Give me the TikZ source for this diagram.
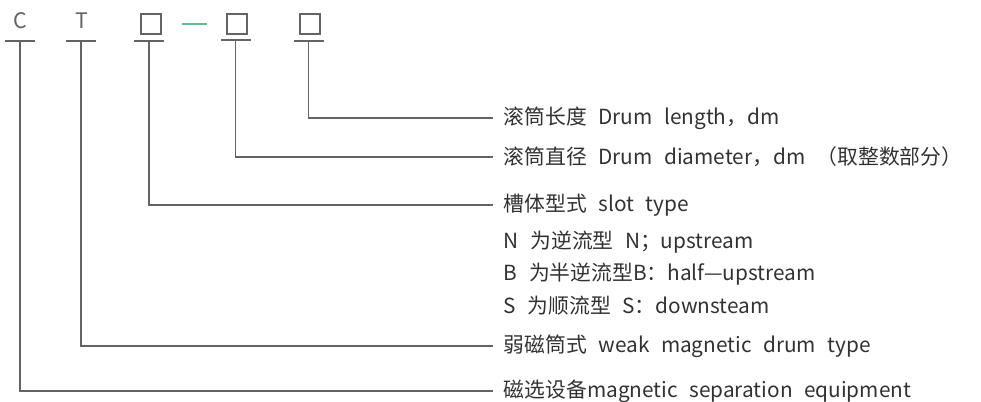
\documentclass[tikz,border=0pt]{standalone}
\usepackage{fontspec}
\setmainfont{Noto Sans CJK SC}
\usetikzlibrary{positioning}
\definecolor{LineGray}{RGB}{100,100,100}
\definecolor{TextGray}{RGB}{50,50,50}
\definecolor{DashGreen}{RGB}{95,190,150}
\newcommand{\widesp}{\spaceskip=0.55em\relax}
\tikzset{
  % model code: letters, blanks and the bars under them
  code/.style={font=\fontsize{16}{16}\selectfont,text=LineGray,inner sep=0},
  blank/.style={draw=LineGray,line width=1.3pt,minimum size=15.5pt,inner sep=0},
  foot/.style={fill=LineGray,minimum width=22.5pt,minimum height=1.5pt,inner sep=0},
  hyph/.style={fill=DashGreen,minimum width=18.5pt,minimum height=1.6pt,inner sep=0},
  % leaders and explanations
  lead/.style={LineGray,line width=1.4pt},
  note/.style={anchor=west,inner xsep=8pt,inner ysep=0pt,text=TextGray,
    font=\fontsize{15.6}{18}\selectfont,execute at begin node=\widesp}
}
\begin{document}
\begin{tikzpicture}[x=0.75pt,y=-0.75pt]
  \useasboundingbox (0,0) rectangle (981,402);
  % code row
  \node[code] (c) at (20,21) {C};
  \node[code] (t) at (82,21) {T};
  \node[blank] (slot) at (151,24) {};
  \node[hyph] (sep) at (194.5,24) {};
  \node[blank] (dia) at (237,24) {};
  \node[blank] (len) at (310,24) {};
  \node[foot] (c-foot) at (20,41) {};
  \node[foot] (t-foot) at (81,41) {};
  \node[foot] (slot-foot) at (149,41) {};
  \node[foot] (dia-foot) at (235.5,40) {};
  \node[foot] (len-foot) at (308.5,41) {};
  % explanations
  \node[note] (lbl-len) at (493,118) {滚筒长度 Drum length，dm};
  \node[note] (lbl-dia) at (493,157) {滚筒直径 Drum diameter，dm （取整数部分）};
  \node[note] (lbl-slot) at (493,205) {槽体型式 slot type};
  \node[note] (lbl-n) at (493,242) {N 为逆流型 N；upstream};
  \node[note] (lbl-b) at (493,274) {B 为半逆流型B：half—upstream};
  \node[note] (lbl-s) at (493,306) {S 为顺流型 S：downsteam};
  \node[note] (lbl-weak) at (493,346) {弱磁筒式 weak magnetic drum type};
  \node[note] (lbl-equip) at (493,391) {磁选设备magnetic separation equipment};
  % leaders
  \draw[lead] (len-foot.center) |- (lbl-len.west);
  \draw[lead] (dia-foot.center) |- (lbl-dia.west);
  \draw[lead] (slot-foot.center) |- (lbl-slot.west);
  \draw[lead] (t-foot.center) |- (lbl-weak.west);
  \draw[lead] (c-foot.center) |- (lbl-equip.west);
\end{tikzpicture}
\end{document}
